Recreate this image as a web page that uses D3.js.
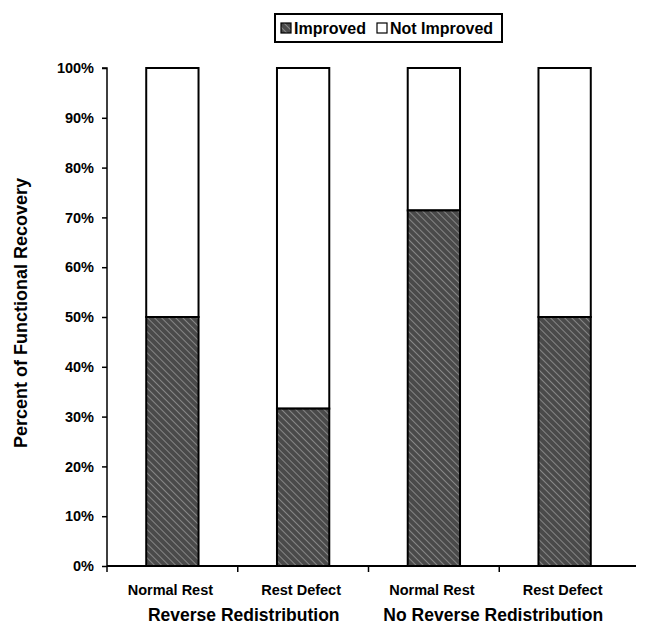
<!DOCTYPE html>
<html>
<head>
<meta charset="utf-8">
<script src="https://cdn.jsdelivr.net/npm/d3@7"></script>
<style>
  body { margin: 0; background: #fff; }
  text { font-family: "Liberation Sans", Arial, sans-serif; font-weight: bold; fill: #000; }
</style>
</head>
<body>
<div id="chart"></div>
<script>
// Data
const categories = ["Normal Rest", "Rest Defect", "Normal Rest ", "Rest Defect "];
const groups = ["Reverse Redistribution", "No Reverse Redistribution"];
const improved = [50, 31.6, 71.4, 50];
const notImproved = improved.map(v => 100 - v);
const yTicks = [0, 10, 20, 30, 40, 50, 60, 70, 80, 90, 100];
const seriesNames = ["Improved", "Not Improved"];

const W = 656, H = 629;
const svg = d3.select("#chart").append("svg")
  .attr("width", W).attr("height", H);

// hatch pattern for "Improved"
const defs = svg.append("defs");
const pat = defs.append("pattern")
  .attr("id", "hatch")
  .attr("patternUnits", "userSpaceOnUse")
  .attr("width", 5).attr("height", 5)
  .attr("patternTransform", "rotate(45)");
pat.append("rect").attr("width", 5).attr("height", 5).attr("fill", "#4a4a4a");
pat.append("line")
  .attr("x1", 0).attr("y1", 0).attr("x2", 5).attr("y2", 0)
  .attr("stroke", "#a0a0a0").attr("stroke-width", 1.4);

const x = d3.scaleBand()
  .domain(categories)
  .range([107, 630])
  .paddingInner(0.6)
  .paddingOuter(0.3);

const y = d3.scaleLinear()
  .domain([0, 100])
  .range([566, 68]);

// stacked bars
const stackData = categories.map((c, i) => ({ cat: c, imp: improved[i], not: notImproved[i] }));

svg.append("g").selectAll("rect.nimp")
  .data(stackData)
  .join("rect")
  .attr("x", d => x(d.cat))
  .attr("width", x.bandwidth())
  .attr("y", d => y(d.imp + d.not))
  .attr("height", d => y(d.imp) - y(d.imp + d.not))
  .attr("fill", "#fff")
  .attr("stroke", "#000")
  .attr("stroke-width", 2);

svg.append("g").selectAll("rect.imp")
  .data(stackData)
  .join("rect")
  .attr("x", d => x(d.cat))
  .attr("width", x.bandwidth())
  .attr("y", d => y(d.imp))
  .attr("height", d => y(0) - y(d.imp))
  .attr("fill", "url(#hatch)")
  .attr("stroke", "#000")
  .attr("stroke-width", 2);

// y axis
const yAxis = svg.append("g")
  .attr("transform", "translate(107,0)")
  .call(d3.axisLeft(y).tickValues(yTicks).tickFormat(d => d + "%").tickSize(5).tickPadding(8));
yAxis.select(".domain").attr("stroke-width", 1.5).attr("d", `M-5,${y(100)}H0V${y(0)}`);
yAxis.selectAll(".tick line").attr("stroke-width", 1.5);
yAxis.selectAll(".tick text").style("font-size", "14.5px").attr("font-family", null).attr("font-weight", "bold");

// x axis: ticks at band boundaries
const x0 = x.range()[0];
const boundaries = d3.range(categories.length).map(i => x0 + i * (x.range()[1] - x0) / categories.length);
const xg = svg.append("g");
xg.append("line")
  .attr("x1", 107).attr("x2", 636)
  .attr("y1", y(0)).attr("y2", y(0))
  .attr("stroke", "#000").attr("stroke-width", 2);
xg.selectAll("line.tk")
  .data(boundaries)
  .join("line")
  .attr("x1", d => d).attr("x2", d => d)
  .attr("y1", y(0)).attr("y2", y(0) + 6)
  .attr("stroke", "#000").attr("stroke-width", 1.5);

xg.selectAll("text.cat")
  .data(categories)
  .join("text")
  .attr("x", d => x(d) + x.bandwidth() / 2 - 2)
  .attr("y", 595)
  .attr("text-anchor", "middle")
  .style("font-size", "14.5px")
  .text(d => d.trim());

xg.selectAll("text.grp")
  .data(groups)
  .join("text")
  .attr("x", (d, i) => (x(categories[i * 2]) + x(categories[i * 2 + 1]) + x.bandwidth()) / 2 + (i === 0 ? 6 : -6))
  .attr("y", 621)
  .attr("text-anchor", "middle")
  .style("font-size", "17.5px")
  .text(d => d);

// y title
svg.append("text")
  .attr("transform", `translate(27,${(y(0) + y(100)) / 2 - 4}) rotate(-90)`)
  .attr("text-anchor", "middle")
  .style("font-size", "18px")
  .text("Percent of Functional Recovery");

// legend
const lg = svg.append("g");
lg.append("rect")
  .attr("x", 275).attr("y", 14).attr("width", 227).attr("height", 28)
  .attr("fill", "#fff").attr("stroke", "#000").attr("stroke-width", 2);
const legendX = [281, 377];
const legendFill = ["url(#hatch)", "#fff"];
seriesNames.forEach((s, i) => {
  lg.append("rect")
    .attr("x", legendX[i]).attr("y", 23).attr("width", 10).attr("height", 10)
    .attr("fill", legendFill[i]).attr("stroke", "#000").attr("stroke-width", 1.2);
  lg.append("text")
    .attr("x", legendX[i] + 13).attr("y", 34)
    .style("font-size", "16px")
    .text(s);
});
</script>
</body>
</html>
